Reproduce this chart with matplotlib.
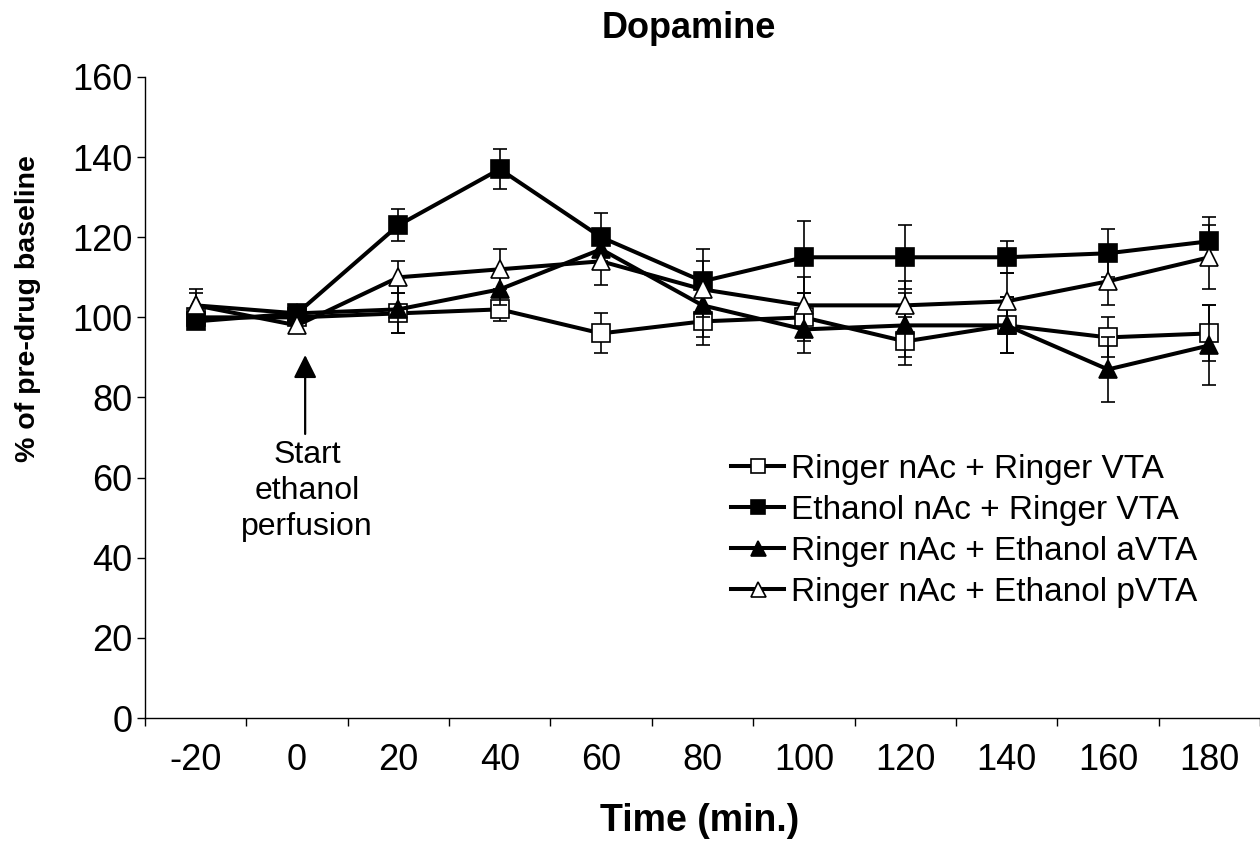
import numpy as np
import matplotlib
matplotlib.use('Agg')
import matplotlib.pyplot as plt

plt.rcParams['font.family'] = ['Liberation Sans', 'DejaVu Sans']

# time points (min.) and % of pre-drug baseline per group
time = [-20, 0, 20, 40, 60, 80, 100, 120, 140, 160, 180]
rr = [100, 100, 101, 102, 96, 99, 100, 94, 98, 95, 96]
rr_err = [2, 2, 5, 3, 5, 6, 6, 6, 7, 5, 7]
er = [99, 101, 123, 137, 120, 109, 115, 115, 115, 116, 119]
er_err = [2, 2, 4, 5, 6, 8, 9, 8, 4, 6, 6]
ea = [103, 101, 102, 107, 117, 103, 97, 98, 98, 87, 93]
ea_err = [3, 2, 6, 4, 5, 8, 6, 8, 7, 8, 10]
ep = [103, 98, 110, 112, 114, 107, 103, 103, 104, 109, 115]
ep_err = [4, 2, 4, 5, 6, 7, 7, 6, 7, 6, 8]
labels = ['Ringer nAc + Ringer VTA', 'Ethanol nAc + Ringer VTA',
          'Ringer nAc + Ethanol aVTA', 'Ringer nAc + Ethanol pVTA']

fig = plt.figure(figsize=(12.6, 8.5), dpi=100)
ax = fig.add_axes([145 / 1260, 1 - 718 / 850, 1 - 145 / 1260, (718 - 77) / 850])

x = np.arange(len(time))
series = [(rr, rr_err, 's', 'white'), (er, er_err, 's', 'black'),
          (ea, ea_err, '^', 'black'), (ep, ep_err, '^', 'white')]
handles = []
for i, (vals, errs, mk, face) in enumerate(series):
    ms = 12.5 if mk == 's' else 13.5
    ax.errorbar(x, vals, yerr=errs, fmt='none', ecolor='black', elinewidth=1.2,
                capsize=4.7, capthick=1.2, zorder=2 + i * 2)
    h, = ax.plot(x, vals, color='black', lw=2.9, marker=mk, ms=ms,
                 mfc=face, mec='black', mew=1.2, zorder=3 + i * 2)
    handles.append(h)

ax.set_xlim(-0.5, len(time) - 0.5)
ax.set_ylim(0, 160)
ax.set_yticks(np.arange(0, 161, 20))
ax.set_xticks(x)
ax.set_xticklabels([str(t) for t in time])
ax.set_xticks(np.arange(-0.5, len(time), 1), minor=True)
ax.tick_params(axis='x', which='major', length=0, pad=18, labelsize=26)
ax.tick_params(axis='x', which='minor', length=6, width=1, direction='out')
ax.tick_params(axis='y', length=6, width=1, pad=3, labelsize=26, direction='out')
for s in ['top', 'right']:
    ax.spines[s].set_visible(False)
for s in ['left', 'bottom']:
    ax.spines[s].set_linewidth(1)

# start of perfusion marker
ax.annotate('', xy=(1.08, 90.6), xytext=(1.08, 70.9),
            arrowprops=dict(arrowstyle='-|>,head_length=1.4,head_width=0.7',
                            color='black', lw=1.6, shrinkA=0, shrinkB=0))
ax.text(1.1, 69.5, 'Start\nethanol\nperfusion', ha='center', va='top',
        fontsize=23, linespacing=1.27)

fig.legend(handles, labels, loc='upper left', bbox_to_anchor=(731 / 1260, 1 - 454 / 850),
           bbox_transform=fig.transFigure, frameon=False, fontsize=24,
           borderpad=0, borderaxespad=0, handlelength=1.6, handletextpad=0.2,
           labelspacing=0.3, markerscale=0.8)

fig.text(689 / 1260, 1 - 28 / 850, 'Dopamine', ha='center', va='center',
         fontsize=26, fontweight='bold')
fig.text(700 / 1260, 1 - 821 / 850, 'Time (min.)', ha='center', va='center',
         fontsize=27, fontweight='bold')
fig.text(28 / 1260, 1 - 309 / 850, '% of pre-drug baseline', ha='center', va='center',
         rotation=90, fontsize=20.5, fontweight='bold')

fig.savefig('out.png', dpi=100)
